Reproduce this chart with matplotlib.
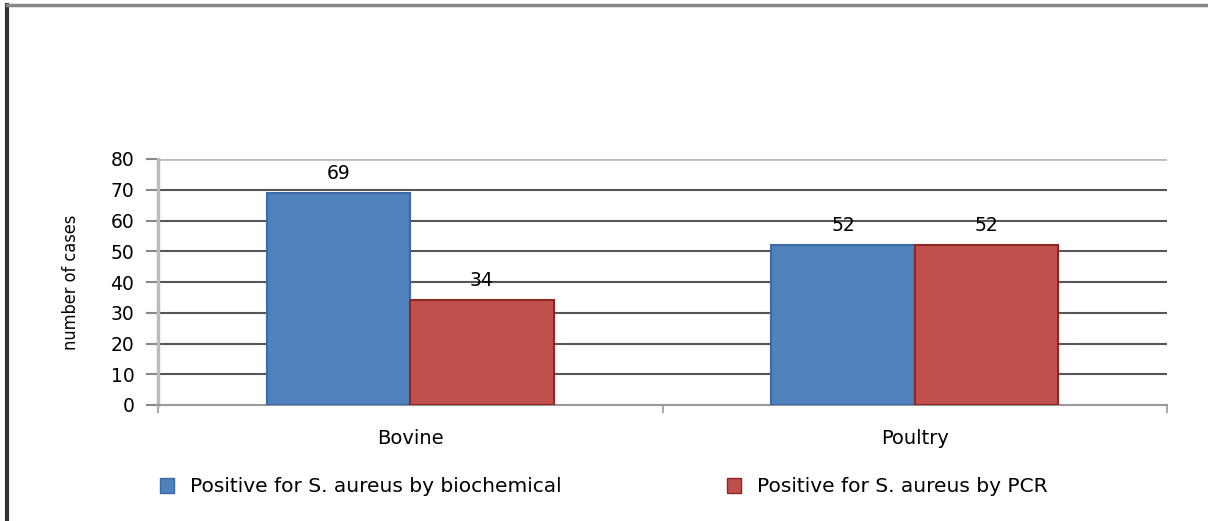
import matplotlib
matplotlib.use('Agg')
import matplotlib.pyplot as plt
import numpy as np
from matplotlib.lines import Line2D
from matplotlib.patches import Patch

categories = ['Bovine', 'Poultry']
biochemical = [69, 52]
pcr = [34, 52]
series_names = ['Positive for S. aureus by biochemical', 'Positive for S. aureus by PCR']
yticks = [0, 10, 20, 30, 40, 50, 60, 70, 80]

BLUE = '#4f81bd'
RED = '#c0504d'


def main():
    fig = plt.figure(figsize=(12.08, 5.21), dpi=100)
    ax = fig.add_axes([158/1208, 116/521, 1009/1208, 246/521])

    x = np.arange(len(categories))
    w = 0.284
    b1 = ax.bar(x - w/2, biochemical, w, color=BLUE, edgecolor='#3c6aa6', linewidth=1.5, zorder=3)
    b2 = ax.bar(x + w/2, pcr, w, color=RED, edgecolor='#8e2622', linewidth=1.5, zorder=3)

    for bars, vals in [(b1, biochemical), (b2, pcr)]:
        for rect, v in zip(bars, vals):
            ax.text(rect.get_x() + rect.get_width()/2, v + 3.3, str(v),
                    ha='center', va='bottom', fontsize=13.5, zorder=4)

    ax.set_xlim(-0.5, 1.5)
    ax.set_ylim(0, 80)
    ax.set_yticks(yticks)
    ax.tick_params('y', labelsize=13.5, length=9, width=1.5, color='#888888', pad=8)
    ax.set_xticks(x)
    ax.set_xticklabels(categories, fontsize=14)
    ax.tick_params('x', length=0, pad=17)
    # category separator ticks
    for xt in [-0.5, 0.5, 1.5]:
        ax.plot([xt, xt], [0, -2.2], color='#aaaaaa', lw=1.5, clip_on=False)

    for yt in yticks[1:-1]:
        ax.axhline(yt, color='#555555', lw=1.5, zorder=1)
    ax.axhline(80, color='#bbbbbb', lw=2, zorder=1)

    for s in ['top', 'right']:
        ax.spines[s].set_visible(False)
    ax.spines['left'].set_color('#bbbbbb')
    ax.spines['left'].set_linewidth(2.5)
    ax.spines['bottom'].set_color('#999999')
    ax.spines['bottom'].set_linewidth(1.5)

    ax.set_ylabel('number of cases', fontsize=13, fontstretch='condensed', labelpad=22)

    h1 = [Patch(facecolor=BLUE, edgecolor='#3c6aa6')]
    h2 = [Patch(facecolor=RED, edgecolor='#8e2622')]
    kw = dict(loc='center left', frameon=False, fontsize=14.5, handlelength=0.7,
              handleheight=0.7, handletextpad=0.8)
    fig.legend(h1, [series_names[0]], bbox_to_anchor=(142/1208, 34/521), **kw)
    fig.legend(h2, [series_names[1]], bbox_to_anchor=(709/1208, 34/521), **kw)

    # outer frame (left and top edges only)
    fig.add_artist(Line2D([7/1208, 7/1208], [0, 516/521], color='#333333', lw=3, transform=fig.transFigure))
    fig.add_artist(Line2D([7/1208, 1], [516/521, 516/521], color='#888888', lw=2.5, transform=fig.transFigure))

    fig.savefig('out.png', dpi=100)


if __name__ == "__main__":
    main()
